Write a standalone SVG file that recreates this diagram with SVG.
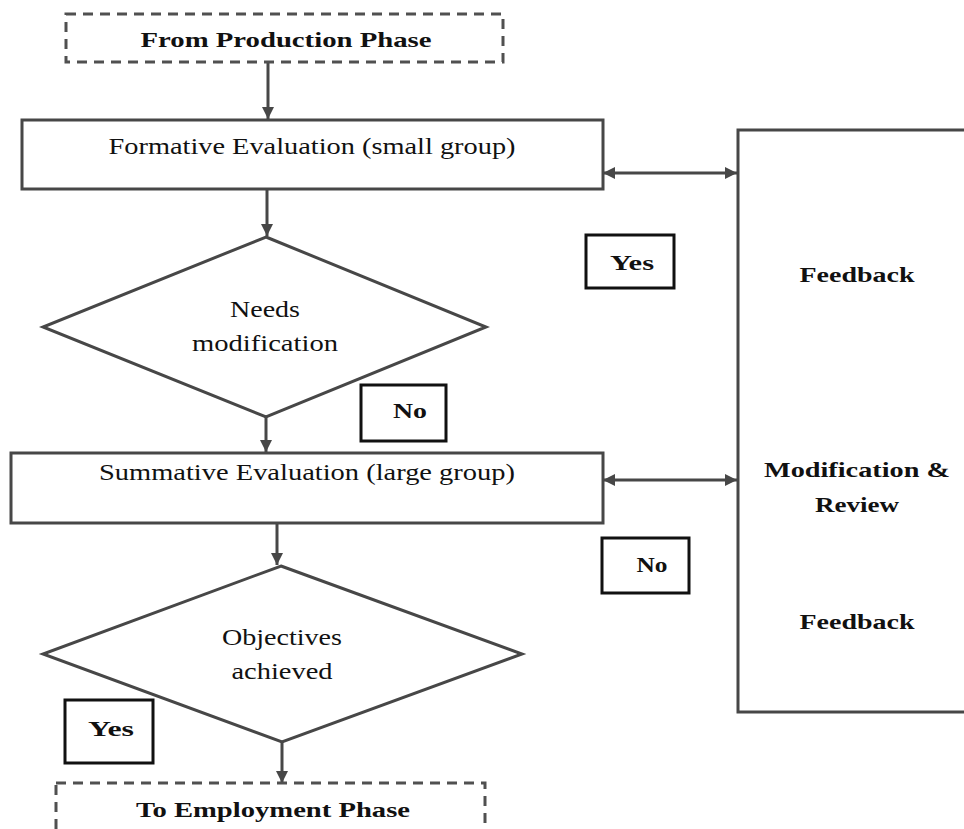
<svg xmlns="http://www.w3.org/2000/svg" width="964" height="829" viewBox="0 0 964 829">
  <style>
    .box { fill: #ffffff; stroke: #474747; stroke-width: 3; }
    .dash { fill: #ffffff; stroke: #505050; stroke-width: 3; stroke-dasharray: 10 7; }
    .lbl { fill: #ffffff; stroke: #111111; stroke-width: 3; }
    .conn { fill: none; stroke: #474747; stroke-width: 3; }
    .t { font-family: "Liberation Serif", "Times New Roman", serif; font-size: 24px; fill: #111111; text-anchor: middle; }
    .b { font-family: "Liberation Serif", "Times New Roman", serif; font-size: 21px; font-weight: bold; fill: #111111; text-anchor: middle; }
  </style>
  <defs>
    <marker id="ah" markerUnits="userSpaceOnUse" markerWidth="14" markerHeight="14" refX="12" refY="6" orient="auto-start-reverse">
      <path d="M0,0 L12,6 L0,12 Z" fill="#474747"/>
    </marker>
  </defs>
  <rect x="0" y="0" width="964" height="829" fill="#ffffff"/>

  <g id="connectors">
    <line class="conn" x1="268" y1="62" x2="268" y2="119" marker-end="url(#ah)"/>
    <line class="conn" x1="267" y1="189" x2="267" y2="236" marker-end="url(#ah)"/>
    <line class="conn" x1="266" y1="417" x2="266" y2="452" marker-end="url(#ah)"/>
    <line class="conn" x1="277" y1="523" x2="277" y2="565" marker-end="url(#ah)"/>
    <line class="conn" x1="282" y1="742" x2="282" y2="783" marker-end="url(#ah)"/>
    <line class="conn" x1="603" y1="173" x2="737" y2="173" marker-start="url(#ah)" marker-end="url(#ah)"/>
    <line class="conn" x1="603" y1="480" x2="737" y2="480" marker-start="url(#ah)" marker-end="url(#ah)"/>
  </g>

  <g id="from-production">
    <rect class="dash" x="66" y="14" width="437" height="48"/>
    <text class="b" x="286" y="47" textLength="291" lengthAdjust="spacingAndGlyphs">From Production Phase</text>
  </g>

  <g id="formative">
    <rect class="box" x="22" y="120" width="581" height="69"/>
    <text class="t" x="312" y="154" font-size="25" textLength="407" lengthAdjust="spacingAndGlyphs">Formative Evaluation (small group)</text>
  </g>

  <g id="needs-modification">
    <polygon class="box" points="266,237 486,327 266,417 43,327"/>
    <text class="t" x="265" y="317" textLength="70" lengthAdjust="spacingAndGlyphs">Needs</text>
    <text class="t" x="265" y="351" textLength="146" lengthAdjust="spacingAndGlyphs">modification</text>
  </g>

  <g id="label-no-1">
    <rect class="lbl" x="361" y="385" width="85" height="56"/>
    <text class="b" x="410" y="418" textLength="34" lengthAdjust="spacingAndGlyphs">No</text>
  </g>

  <g id="summative">
    <rect class="box" x="11" y="453" width="592" height="70"/>
    <text class="t" x="307" y="480" font-size="25" textLength="416" lengthAdjust="spacingAndGlyphs">Summative Evaluation (large group)</text>
  </g>

  <g id="objectives-achieved">
    <polygon class="box" points="281,566 522,654 282,742 43,654"/>
    <text class="t" x="282" y="645" textLength="120" lengthAdjust="spacingAndGlyphs">Objectives</text>
    <text class="t" x="282" y="679" textLength="101" lengthAdjust="spacingAndGlyphs">achieved</text>
  </g>

  <g id="label-no-2">
    <rect class="lbl" x="602" y="538" width="87" height="55"/>
    <text class="b" x="652" y="572" textLength="31" lengthAdjust="spacingAndGlyphs">No</text>
  </g>

  <g id="label-yes-1">
    <rect class="lbl" x="586" y="235" width="88" height="53"/>
    <text class="b" x="632" y="270" textLength="44" lengthAdjust="spacingAndGlyphs">Yes</text>
  </g>

  <g id="label-yes-2">
    <rect class="lbl" x="65" y="700" width="88" height="63"/>
    <text class="b" x="111" y="736" textLength="46" lengthAdjust="spacingAndGlyphs">Yes</text>
  </g>

  <g id="to-employment">
    <rect class="dash" x="56" y="783" width="429" height="70"/>
    <text class="b" x="273" y="817" textLength="274" lengthAdjust="spacingAndGlyphs">To Employment Phase</text>
  </g>

  <g id="feedback-panel">
    <rect class="box" x="738" y="130" width="240" height="582"/>
    <text class="b" x="857" y="282" textLength="115" lengthAdjust="spacingAndGlyphs">Feedback</text>
    <text class="b" x="857" y="477" textLength="186" lengthAdjust="spacingAndGlyphs">Modification &amp;</text>
    <text class="b" x="857" y="512" textLength="84" lengthAdjust="spacingAndGlyphs">Review</text>
    <text class="b" x="857" y="629" textLength="115" lengthAdjust="spacingAndGlyphs">Feedback</text>
  </g>
</svg>
